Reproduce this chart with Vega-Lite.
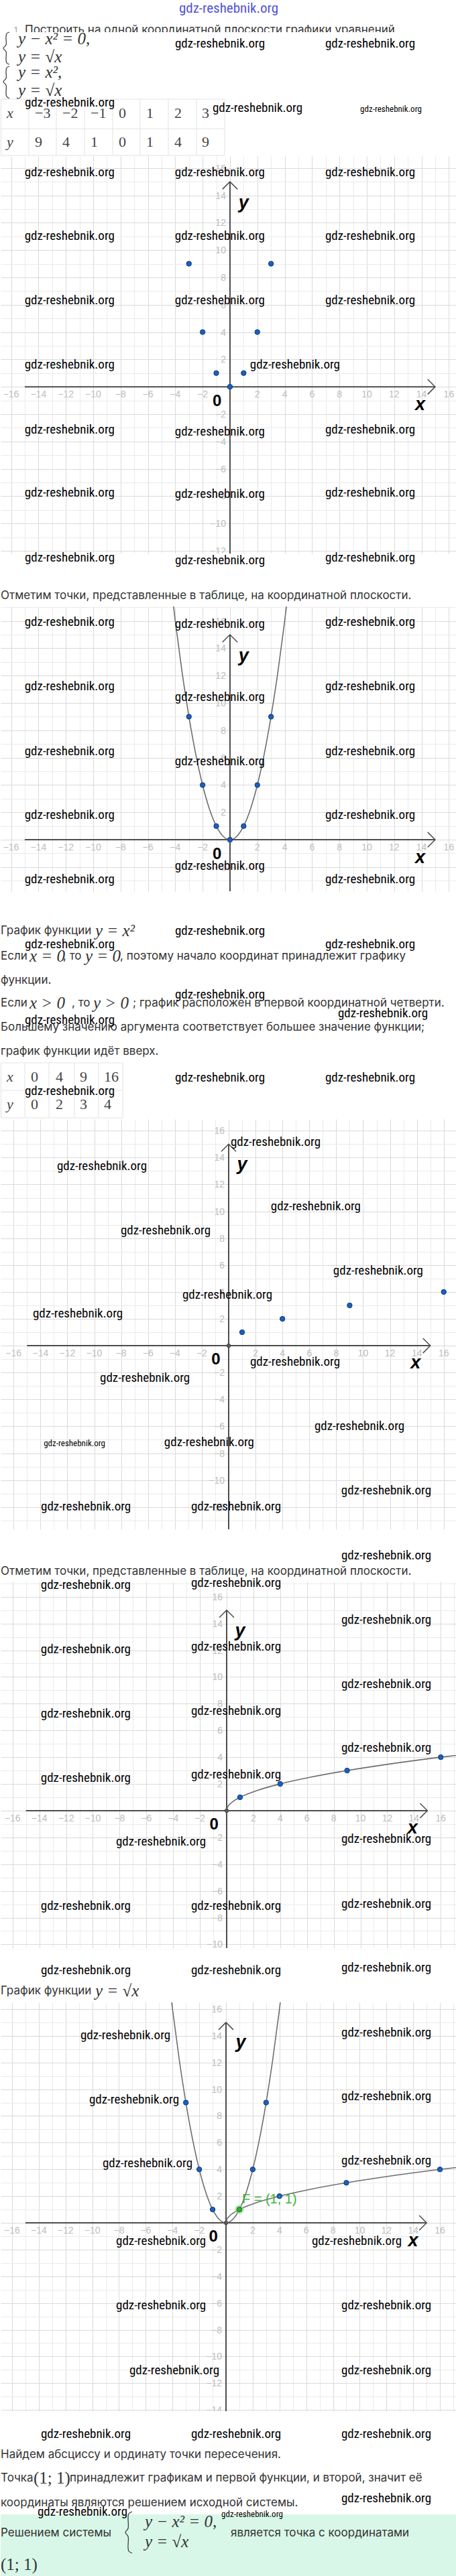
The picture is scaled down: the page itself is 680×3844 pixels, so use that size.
{
 "$schema": "https://vega.github.io/schema/vega-lite/v6.json",
 "padding": 0, "spacing": 0, "bounds": "flush", "background": "white",
 "config": {"view": {"stroke": null}, "concat": {"spacing": 0}},
 "vconcat": [
  {
   "width": 680, "height": 233,
   "encoding": {"x": {"field": "x", "type": "quantitative", "scale": {"domain": [0, 680], "nice": false, "zero": false}, "axis": null},
                "y": {"field": "y", "type": "quantitative", "scale": {"domain": [0, 233], "nice": false, "zero": false, "reverse": true}, "axis": null}},
   "layer": [
    {"data": {"values": [{"x": 20, "y": 45, "t": "1"}]}, "mark": {"type": "text", "align": "left", "baseline": "middle", "font": "Inter", "fontSize": 12, "color": "#9e9e9e"}, "encoding": {"text": {"field": "t"}}},
    {"data": {"values": [{"x": 36, "y": 45, "t": "Построить на одной координатной плоскости графики уравнений"}]}, "mark": {"type": "text", "align": "left", "baseline": "middle", "font": "Inter", "fontSize": 17, "color": "#333333"}, "encoding": {"text": {"field": "t"}}},
    {"data": {"values": [{"x": 0, "x2": 680, "y": 48, "y2": 148}]}, "mark": {"type": "rect", "color": "white"}, "encoding": {"x2": {"field": "x2"}, "y2": {"field": "y2"}}},
    {"data": {"values": [
      {"b": 1, "o": 1, "x": 13, "y": 48}, {"b": 1, "o": 2, "x": 9, "y": 50}, {"b": 1, "o": 3, "x": 8, "y": 55}, {"b": 1, "o": 4, "x": 8, "y": 67}, {"b": 1, "o": 5, "x": 4, "y": 72}, {"b": 1, "o": 6, "x": 8, "y": 77}, {"b": 1, "o": 7, "x": 8, "y": 89}, {"b": 1, "o": 8, "x": 9, "y": 94}, {"b": 1, "o": 9, "x": 13, "y": 96},
      {"b": 2, "o": 1, "x": 13, "y": 99}, {"b": 2, "o": 2, "x": 9, "y": 101}, {"b": 2, "o": 3, "x": 8, "y": 106}, {"b": 2, "o": 4, "x": 8, "y": 117}, {"b": 2, "o": 5, "x": 4, "y": 122}, {"b": 2, "o": 6, "x": 8, "y": 127}, {"b": 2, "o": 7, "x": 8, "y": 139}, {"b": 2, "o": 8, "x": 9, "y": 144}, {"b": 2, "o": 9, "x": 13, "y": 147}]},
     "mark": {"type": "line", "color": "#333333", "strokeWidth": 1.2, "interpolate": "catmull-rom"}, "encoding": {"detail": {"field": "b"}, "order": {"field": "o"}}},
    {"data": {"values": [{"x": 26, "y": 58, "t": "y − x² = 0,"}, {"x": 26, "y": 85, "t": "y = √x"}, {"x": 26, "y": 108, "t": "y = x²,"}, {"x": 26, "y": 135, "t": "y = √x"}]}, "mark": {"type": "text", "align": "left", "baseline": "middle", "font": "Liberation Serif", "fontStyle": "italic", "fontSize": 25, "color": "#333333"}, "encoding": {"text": {"field": "t"}}},
    {"data": {"values": [
      {"x": 0, "x2": 334, "y": 148, "y2": 148}, {"x": 0, "x2": 334, "y": 192, "y2": 192}, {"x": 0, "x2": 334, "y": 232, "y2": 232},
      {"x": 0.5, "x2": 0.5, "y": 148, "y2": 232}, {"x": 42, "x2": 42, "y": 148, "y2": 232}, {"x": 83, "x2": 83, "y": 148, "y2": 232}, {"x": 125, "x2": 125, "y": 148, "y2": 232}, {"x": 167, "x2": 167, "y": 148, "y2": 232}, {"x": 208, "x2": 208, "y": 148, "y2": 232}, {"x": 250, "x2": 250, "y": 148, "y2": 232}, {"x": 292, "x2": 292, "y": 148, "y2": 232}, {"x": 334, "x2": 334, "y": 148, "y2": 232}]},
     "mark": {"type": "rule", "color": "#e3e3e3", "strokeWidth": 1}, "encoding": {"x2": {"field": "x2"}, "y2": {"field": "y2"}}},
    {"data": {"values": [{"x": 9, "y": 169, "t": "x"}, {"x": 9, "y": 212, "t": "y"}]}, "mark": {"type": "text", "align": "left", "baseline": "middle", "font": "Liberation Serif", "fontStyle": "italic", "fontSize": 22, "color": "#444444"}, "encoding": {"text": {"field": "t"}}},
    {"data": {"values": [
      {"x": 51, "y": 169, "t": "−3"}, {"x": 92, "y": 169, "t": "−2"}, {"x": 134, "y": 169, "t": "−1"}, {"x": 176, "y": 169, "t": "0"}, {"x": 217, "y": 169, "t": "1"}, {"x": 259, "y": 169, "t": "2"}, {"x": 300, "y": 169, "t": "3"},
      {"x": 51, "y": 212, "t": "9"}, {"x": 92, "y": 212, "t": "4"}, {"x": 134, "y": 212, "t": "1"}, {"x": 176, "y": 212, "t": "0"}, {"x": 217, "y": 212, "t": "1"}, {"x": 259, "y": 212, "t": "4"}, {"x": 300, "y": 212, "t": "9"}]},
     "mark": {"type": "text", "align": "left", "baseline": "middle", "font": "Liberation Serif", "fontSize": 22, "color": "#444444"}, "encoding": {"text": {"field": "t"}}},
    {"data": {"values": [{"x": 340, "y": 13, "t": "gdz-reshebnik.org"}]}, "mark": {"type": "text", "align": "center", "baseline": "middle", "font": "Liberation Sans Narrow, Roboto Condensed, Roboto, sans-serif", "fontSize": 21, "color": "#5252d6"}, "encoding": {"text": {"field": "t"}}},
    {"data": {"values": [{"x": 327, "y": 65}, {"x": 551, "y": 65}, {"x": 103, "y": 153}, {"x": 383, "y": 161}]}, "mark": {"type": "text", "text": "gdz-reshebnik.org", "align": "center", "baseline": "middle", "font": "Liberation Sans Narrow, Roboto Condensed, Roboto, sans-serif", "fontSize": 19, "color": "black"}},
    {"data": {"values": [{"x": 582, "y": 163}]}, "mark": {"type": "text", "text": "gdz-reshebnik.org", "align": "center", "baseline": "middle", "font": "Liberation Sans Narrow, Roboto Condensed, Roboto, sans-serif", "fontSize": 13, "color": "black"}}
   ]
  },
  {
   "width": 680, "height": 593,
   "encoding": {
    "x": {"field": "x", "type": "quantitative", "scale": {"domain": [-16.76, 16.57], "nice": false, "zero": false}, "axis": {"grid": true, "gridColor": {"condition": {"test": "datum.value % 2 === 0", "value": "#dadada"}, "value": "#ebebeb"}, "labels": false, "ticks": false, "domain": false, "title": null, "minExtent": 0, "maxExtent": 0, "values": [-16,-15,-14,-13,-12,-11,-10,-9,-8,-7,-6,-5,-4,-3,-2,-1,0,1,2,3,4,5,6,7,8,9,10,11,12,13,14,15,16]}},
    "y": {"field": "y", "type": "quantitative", "scale": {"domain": [-12.2, 16.87], "nice": false, "zero": false}, "axis": {"grid": true, "gridColor": {"condition": {"test": "datum.value % 2 === 0", "value": "#dadada"}, "value": "#ebebeb"}, "labels": false, "ticks": false, "domain": false, "title": null, "minExtent": 0, "maxExtent": 0, "values": [-12,-11,-10,-9,-8,-7,-6,-5,-4,-3,-2,-1,0,1,2,3,4,5,6,7,8,9,10,11,12,13,14,15,16]}}
   },
   "layer": [
    {"data": {"values": [{"x": -15, "y": 0, "x2": 15, "y2": 0}, {"x": 0, "y": -15, "x2": 0, "y2": 15}]}, "mark": {"type": "rule", "color": "#4d4d4d", "strokeWidth": 2, "clip": true}, "encoding": {"x2": {"field": "x2"}, "y2": {"field": "y2"}}},
    {"data": {"values": [{"a": "x", "o": 1, "x": 14.45, "y": 0.55}, {"a": "x", "o": 2, "x": 15, "y": 0}, {"a": "x", "o": 3, "x": 14.45, "y": -0.55}, {"a": "y", "o": 1, "x": -0.55, "y": 14.45}, {"a": "y", "o": 2, "x": 0, "y": 15}, {"a": "y", "o": 3, "x": 0.55, "y": 14.45}]}, "mark": {"type": "line", "color": "#4d4d4d", "strokeWidth": 1.5, "clip": true}, "encoding": {"detail": {"field": "a"}, "order": {"field": "o"}}},
    {"data": {"values": [{"x": -16, "y": 0}, {"x": -14, "y": 0}, {"x": -12, "y": 0}, {"x": -10, "y": 0}, {"x": -8, "y": 0}, {"x": -6, "y": 0}, {"x": -4, "y": 0}, {"x": -2, "y": 0}, {"x": 2, "y": 0}, {"x": 4, "y": 0}, {"x": 6, "y": 0}, {"x": 8, "y": 0}, {"x": 10, "y": 0}, {"x": 12, "y": 0}, {"x": 14, "y": 0}, {"x": 16, "y": 0}]}, "mark": {"type": "text", "dy": 12, "align": "center", "baseline": "middle", "font": "Liberation Sans", "fontSize": 14, "color": "#bdbdbd", "clip": true}, "encoding": {"text": {"field": "x", "type": "quantitative", "format": "d"}}},
    {"data": {"values": [{"x": 0, "y": -12}, {"x": 0, "y": -10}, {"x": 0, "y": -8}, {"x": 0, "y": -6}, {"x": 0, "y": -4}, {"x": 0, "y": -2}, {"x": 0, "y": 2}, {"x": 0, "y": 4}, {"x": 0, "y": 6}, {"x": 0, "y": 8}, {"x": 0, "y": 10}, {"x": 0, "y": 12}, {"x": 0, "y": 14}, {"x": 0, "y": 16}]}, "mark": {"type": "text", "dx": -6, "dy": 1, "align": "right", "baseline": "middle", "font": "Liberation Sans", "fontSize": 14, "color": "#bdbdbd", "clip": true}, "encoding": {"text": {"field": "y", "type": "quantitative", "format": "d"}}},
    {"data": {"values": [{"x": -3, "y": 9}, {"x": -2, "y": 4}, {"x": -1, "y": 1}, {"x": 0, "y": 0}, {"x": 1, "y": 1}, {"x": 2, "y": 4}, {"x": 3, "y": 9}]}, "mark": {"type": "circle", "size": 55, "fill": "#1c5fbf", "stroke": "#0c3a75", "strokeWidth": 1, "opacity": 1, "clip": true}},
    {"data": {"values": [{"x": -0.95, "y": -1.05, "t": "0"}]}, "mark": {"type": "text", "align": "center", "baseline": "middle", "font": "Liberation Sans", "fontWeight": "bold", "fontSize": 24, "color": "black"}, "encoding": {"text": {"field": "t"}}},
    {"data": {"values": [{"x": 13.9, "y": -1.3, "t": "x"}, {"x": 1.0, "y": 13.45, "t": "y"}]}, "mark": {"type": "text", "align": "center", "baseline": "middle", "font": "Liberation Sans", "fontWeight": "bold", "fontStyle": "italic", "fontSize": 27, "color": "black"}, "encoding": {"text": {"field": "t"}}},
    {"data": {"values": [{"x": -11.72, "y": 15.69}, {"x": -0.74, "y": 15.69}, {"x": 10.25, "y": 15.69}, {"x": -11.72, "y": 11.03}, {"x": -0.74, "y": 11.03}, {"x": 10.25, "y": 11.03}, {"x": -11.72, "y": 6.32}, {"x": -0.74, "y": 6.32}, {"x": 10.25, "y": 6.32}, {"x": -11.72, "y": 1.62}, {"x": 4.75, "y": 1.62}, {"x": -11.72, "y": -3.14}, {"x": -0.74, "y": -3.28}, {"x": 10.25, "y": -3.14}, {"x": -11.72, "y": -7.75}, {"x": -0.74, "y": -7.84}, {"x": 10.25, "y": -7.75}]}, "mark": {"type": "text", "text": "gdz-reshebnik.org", "align": "center", "baseline": "middle", "font": "Liberation Sans Narrow, Roboto Condensed, Roboto, sans-serif", "fontSize": 19, "color": "black"}}
   ]
  },
  {
   "width": 680, "height": 79,
   "encoding": {"x": {"field": "x", "type": "quantitative", "scale": {"domain": [0, 680], "nice": false, "zero": false}, "axis": null},
                "y": {"field": "y", "type": "quantitative", "scale": {"domain": [0, 79], "nice": false, "zero": false, "reverse": true}, "axis": null}},
   "layer": [
    {"data": {"values": [{"x": 0, "y": 63, "t": "Отметим точки, представленные в таблице, на координатной плоскости."}]}, "mark": {"type": "text", "align": "left", "baseline": "middle", "font": "Inter", "fontSize": 17, "color": "#333333"}, "encoding": {"text": {"field": "t"}}},
    {"data": {"values": [{"x": 103, "y": 6}, {"x": 327, "y": 10}, {"x": 551, "y": 6}]}, "mark": {"type": "text", "text": "gdz-reshebnik.org", "align": "center", "baseline": "middle", "font": "Liberation Sans Narrow, Roboto Condensed, Roboto, sans-serif", "fontSize": 19, "color": "black"}}
   ]
  },
  {
   "width": 680, "height": 425,
   "encoding": {
    "x": {"field": "x", "type": "quantitative", "scale": {"domain": [-16.76, 16.57], "nice": false, "zero": false}, "axis": {"grid": true, "gridColor": {"condition": {"test": "datum.value % 2 === 0", "value": "#dadada"}, "value": "#ebebeb"}, "labels": false, "ticks": false, "domain": false, "title": null, "minExtent": 0, "maxExtent": 0, "values": [-16,-15,-14,-13,-12,-11,-10,-9,-8,-7,-6,-5,-4,-3,-2,-1,0,1,2,3,4,5,6,7,8,9,10,11,12,13,14,15,16]}},
    "y": {"field": "y", "type": "quantitative", "scale": {"domain": [-3.77, 17.06], "nice": false, "zero": false}, "axis": {"grid": true, "gridColor": {"condition": {"test": "datum.value % 2 === 0", "value": "#dadada"}, "value": "#ebebeb"}, "labels": false, "ticks": false, "domain": false, "title": null, "minExtent": 0, "maxExtent": 0, "values": [-3,-2,-1,0,1,2,3,4,5,6,7,8,9,10,11,12,13,14,15,16,17]}}
   },
   "layer": [
    {"data": {"values": [{"x": -15, "y": 0, "x2": 15, "y2": 0}, {"x": 0, "y": -15, "x2": 0, "y2": 15}]}, "mark": {"type": "rule", "color": "#4d4d4d", "strokeWidth": 2, "clip": true}, "encoding": {"x2": {"field": "x2"}, "y2": {"field": "y2"}}},
    {"data": {"values": [{"a": "x", "o": 1, "x": 14.45, "y": 0.55}, {"a": "x", "o": 2, "x": 15, "y": 0}, {"a": "x", "o": 3, "x": 14.45, "y": -0.55}, {"a": "y", "o": 1, "x": -0.55, "y": 14.45}, {"a": "y", "o": 2, "x": 0, "y": 15}, {"a": "y", "o": 3, "x": 0.55, "y": 14.45}]}, "mark": {"type": "line", "color": "#4d4d4d", "strokeWidth": 1.5, "clip": true}, "encoding": {"detail": {"field": "a"}, "order": {"field": "o"}}},
    {"data": {"values": [{"x": -16, "y": 0}, {"x": -14, "y": 0}, {"x": -12, "y": 0}, {"x": -10, "y": 0}, {"x": -8, "y": 0}, {"x": -6, "y": 0}, {"x": -4, "y": 0}, {"x": -2, "y": 0}, {"x": 2, "y": 0}, {"x": 4, "y": 0}, {"x": 6, "y": 0}, {"x": 8, "y": 0}, {"x": 10, "y": 0}, {"x": 12, "y": 0}, {"x": 14, "y": 0}, {"x": 16, "y": 0}]}, "mark": {"type": "text", "dy": 12, "align": "center", "baseline": "middle", "font": "Liberation Sans", "fontSize": 14, "color": "#bdbdbd", "clip": true}, "encoding": {"text": {"field": "x", "type": "quantitative", "format": "d"}}},
    {"data": {"values": [{"x": 0, "y": -2}, {"x": 0, "y": 2}, {"x": 0, "y": 4}, {"x": 0, "y": 6}, {"x": 0, "y": 8}, {"x": 0, "y": 10}, {"x": 0, "y": 12}, {"x": 0, "y": 14}, {"x": 0, "y": 16}]}, "mark": {"type": "text", "dx": -6, "dy": 1, "align": "right", "baseline": "middle", "font": "Liberation Sans", "fontSize": 14, "color": "#bdbdbd", "clip": true}, "encoding": {"text": {"field": "y", "type": "quantitative", "format": "d"}}},
    {"data": {"values": [{"x": -4.5, "y": 20.25}, {"x": -4, "y": 16}, {"x": -3.5, "y": 12.25}, {"x": -3, "y": 9}, {"x": -2.5, "y": 6.25}, {"x": -2, "y": 4}, {"x": -1.5, "y": 2.25}, {"x": -1, "y": 1}, {"x": -0.5, "y": 0.25}, {"x": 0, "y": 0}, {"x": 0.5, "y": 0.25}, {"x": 1, "y": 1}, {"x": 1.5, "y": 2.25}, {"x": 2, "y": 4}, {"x": 2.5, "y": 6.25}, {"x": 3, "y": 9}, {"x": 3.5, "y": 12.25}, {"x": 4, "y": 16}, {"x": 4.5, "y": 20.25}]}, "mark": {"type": "line", "color": "#6e6e6e", "strokeWidth": 1.6, "interpolate": "monotone", "clip": true}},
    {"data": {"values": [{"x": -3, "y": 9}, {"x": -2, "y": 4}, {"x": -1, "y": 1}, {"x": 0, "y": 0}, {"x": 1, "y": 1}, {"x": 2, "y": 4}, {"x": 3, "y": 9}]}, "mark": {"type": "circle", "size": 55, "fill": "#1c5fbf", "stroke": "#0c3a75", "strokeWidth": 1, "opacity": 1, "clip": true}},
    {"data": {"values": [{"x": -0.95, "y": -1.05, "t": "0"}]}, "mark": {"type": "text", "align": "center", "baseline": "middle", "font": "Liberation Sans", "fontWeight": "bold", "fontSize": 24, "color": "black"}, "encoding": {"text": {"field": "t"}}},
    {"data": {"values": [{"x": 13.9, "y": -1.3, "t": "x"}, {"x": 1.0, "y": 13.45, "t": "y"}]}, "mark": {"type": "text", "align": "center", "baseline": "middle", "font": "Liberation Sans", "fontWeight": "bold", "fontStyle": "italic", "fontSize": 27, "color": "black"}, "encoding": {"text": {"field": "t"}}},
    {"data": {"values": [{"x": -11.72, "y": 15.93}, {"x": -0.74, "y": 15.78}, {"x": 10.25, "y": 15.93}, {"x": -11.72, "y": 11.23}, {"x": -0.74, "y": 10.44}, {"x": 10.25, "y": 11.23}, {"x": -11.72, "y": 6.47}, {"x": -0.74, "y": 5.74}, {"x": 10.25, "y": 6.47}, {"x": -11.72, "y": 1.81}, {"x": 10.25, "y": 1.81}, {"x": -0.74, "y": -1.91}, {"x": -11.72, "y": -2.89}, {"x": 10.25, "y": -2.89}]}, "mark": {"type": "text", "text": "gdz-reshebnik.org", "align": "center", "baseline": "middle", "font": "Liberation Sans Narrow, Roboto Condensed, Roboto, sans-serif", "fontSize": 19, "color": "black"}}
   ]
  },
  {
   "width": 680, "height": 340,
   "encoding": {"x": {"field": "x", "type": "quantitative", "scale": {"domain": [0, 680], "nice": false, "zero": false}, "axis": null},
                "y": {"field": "y", "type": "quantitative", "scale": {"domain": [0, 340], "nice": false, "zero": false, "reverse": true}, "axis": null}},
   "layer": [
    {"data": {"values": [
      {"x": 0, "y": 59, "t": "График функции"},
      {"x": 0, "y": 97, "t": "Если"}, {"x": 93, "y": 97, "t": ", то"}, {"x": 178, "y": 97, "t": ", поэтому начало координат принадлежит графику"},
      {"x": 0, "y": 133, "t": "функции."},
      {"x": 0, "y": 167, "t": "Если"}, {"x": 106, "y": 167, "t": ", то"}, {"x": 197, "y": 167, "t": "; график расположен в первой координатной четверти."},
      {"x": 0, "y": 203, "t": "Большему значению аргумента соответствует большее значение функции;"},
      {"x": 0, "y": 239, "t": "график функции идёт вверх."}]},
     "mark": {"type": "text", "align": "left", "baseline": "middle", "font": "Inter", "fontSize": 17, "color": "#333333"}, "encoding": {"text": {"field": "t"}}},
    {"data": {"values": [{"x": 141, "y": 59, "t": "y = x²"}, {"x": 43, "y": 97, "t": "x = 0"}, {"x": 126, "y": 97, "t": "y = 0"}, {"x": 43, "y": 167, "t": "x  >  0"}, {"x": 138, "y": 167, "t": "y  >  0"}]}, "mark": {"type": "text", "align": "left", "baseline": "middle", "font": "Liberation Serif", "fontStyle": "italic", "fontSize": 25, "color": "#333333"}, "encoding": {"text": {"field": "t"}}},
    {"data": {"values": [
      {"x": 0, "x2": 182, "y": 256, "y2": 256}, {"x": 0, "x2": 182, "y": 297, "y2": 297}, {"x": 0, "x2": 182, "y": 338, "y2": 338},
      {"x": 0.5, "x2": 0.5, "y": 256, "y2": 338}, {"x": 36, "x2": 36, "y": 256, "y2": 338}, {"x": 72, "x2": 72, "y": 256, "y2": 338}, {"x": 110, "x2": 110, "y": 256, "y2": 338}, {"x": 146, "x2": 146, "y": 256, "y2": 338}, {"x": 182, "x2": 182, "y": 256, "y2": 338}]},
     "mark": {"type": "rule", "color": "#e3e3e3", "strokeWidth": 1}, "encoding": {"x2": {"field": "x2"}, "y2": {"field": "y2"}}},
    {"data": {"values": [{"x": 9, "y": 277, "t": "x"}, {"x": 9, "y": 318, "t": "y"}]}, "mark": {"type": "text", "align": "left", "baseline": "middle", "font": "Liberation Serif", "fontStyle": "italic", "fontSize": 22, "color": "#444444"}, "encoding": {"text": {"field": "t"}}},
    {"data": {"values": [{"x": 45, "y": 277, "t": "0"}, {"x": 82, "y": 277, "t": "4"}, {"x": 118, "y": 277, "t": "9"}, {"x": 154, "y": 277, "t": "16"}, {"x": 45, "y": 318, "t": "0"}, {"x": 82, "y": 318, "t": "2"}, {"x": 118, "y": 318, "t": "3"}, {"x": 154, "y": 318, "t": "4"}]}, "mark": {"type": "text", "align": "left", "baseline": "middle", "font": "Liberation Serif", "fontSize": 22, "color": "#444444"}, "encoding": {"text": {"field": "t"}}},
    {"data": {"values": [{"x": 327, "y": 59}, {"x": 103, "y": 79}, {"x": 551, "y": 79}, {"x": 327, "y": 154}, {"x": 570, "y": 182}, {"x": 103, "y": 192}, {"x": 327, "y": 278}, {"x": 551, "y": 278}, {"x": 103, "y": 298}]}, "mark": {"type": "text", "text": "gdz-reshebnik.org", "align": "center", "baseline": "middle", "font": "Liberation Sans Narrow, Roboto Condensed, Roboto, sans-serif", "fontSize": 19, "color": "black"}}
   ]
  },
  {
   "width": 680, "height": 612,
   "encoding": {
    "x": {"field": "x", "type": "quantitative", "scale": {"domain": [-16.96, 16.96], "nice": false, "zero": false}, "axis": {"grid": true, "gridColor": {"condition": {"test": "datum.value % 2 === 0", "value": "#dadada"}, "value": "#ebebeb"}, "labels": false, "ticks": false, "domain": false, "title": null, "minExtent": 0, "maxExtent": 0, "values": [-16,-15,-14,-13,-12,-11,-10,-9,-8,-7,-6,-5,-4,-3,-2,-1,0,1,2,3,4,5,6,7,8,9,10,11,12,13,14,15,16]}},
    "y": {"field": "y", "type": "quantitative", "scale": {"domain": [-13.66, 16.86], "nice": false, "zero": false}, "axis": {"grid": true, "gridColor": {"condition": {"test": "datum.value % 2 === 0", "value": "#dadada"}, "value": "#ebebeb"}, "labels": false, "ticks": false, "domain": false, "title": null, "minExtent": 0, "maxExtent": 0, "values": [-13,-12,-11,-10,-9,-8,-7,-6,-5,-4,-3,-2,-1,0,1,2,3,4,5,6,7,8,9,10,11,12,13,14,15,16]}}
   },
   "layer": [
    {"data": {"values": [{"x": -15, "y": 0, "x2": 15, "y2": 0}, {"x": 0, "y": -15, "x2": 0, "y2": 15}]}, "mark": {"type": "rule", "color": "#4d4d4d", "strokeWidth": 2, "clip": true}, "encoding": {"x2": {"field": "x2"}, "y2": {"field": "y2"}}},
    {"data": {"values": [{"a": "x", "o": 1, "x": 14.45, "y": 0.55}, {"a": "x", "o": 2, "x": 15, "y": 0}, {"a": "x", "o": 3, "x": 14.45, "y": -0.55}, {"a": "y", "o": 1, "x": -0.55, "y": 14.45}, {"a": "y", "o": 2, "x": 0, "y": 15}, {"a": "y", "o": 3, "x": 0.55, "y": 14.45}]}, "mark": {"type": "line", "color": "#4d4d4d", "strokeWidth": 1.5, "clip": true}, "encoding": {"detail": {"field": "a"}, "order": {"field": "o"}}},
    {"data": {"values": [{"x": -16, "y": 0}, {"x": -14, "y": 0}, {"x": -12, "y": 0}, {"x": -10, "y": 0}, {"x": -8, "y": 0}, {"x": -6, "y": 0}, {"x": -4, "y": 0}, {"x": -2, "y": 0}, {"x": 2, "y": 0}, {"x": 4, "y": 0}, {"x": 6, "y": 0}, {"x": 8, "y": 0}, {"x": 10, "y": 0}, {"x": 12, "y": 0}, {"x": 14, "y": 0}, {"x": 16, "y": 0}]}, "mark": {"type": "text", "dy": 12, "align": "center", "baseline": "middle", "font": "Liberation Sans", "fontSize": 14, "color": "#bdbdbd", "clip": true}, "encoding": {"text": {"field": "x", "type": "quantitative", "format": "d"}}},
    {"data": {"values": [{"x": 0, "y": -12}, {"x": 0, "y": -10}, {"x": 0, "y": -8}, {"x": 0, "y": -6}, {"x": 0, "y": -4}, {"x": 0, "y": -2}, {"x": 0, "y": 2}, {"x": 0, "y": 4}, {"x": 0, "y": 6}, {"x": 0, "y": 8}, {"x": 0, "y": 10}, {"x": 0, "y": 12}, {"x": 0, "y": 14}, {"x": 0, "y": 16}]}, "mark": {"type": "text", "dx": -6, "dy": 1, "align": "right", "baseline": "middle", "font": "Liberation Sans", "fontSize": 14, "color": "#bdbdbd", "clip": true}, "encoding": {"text": {"field": "y", "type": "quantitative", "format": "d"}}},
    {"data": {"values": [{"x": 0, "y": 0}]}, "mark": {"type": "circle", "size": 30, "fill": "#5c5c5c", "stroke": "#444444", "strokeWidth": 1, "opacity": 1, "clip": true}},
    {"data": {"values": [{"x": 1, "y": 1}, {"x": 4, "y": 2}, {"x": 9, "y": 3}, {"x": 16, "y": 4}]}, "mark": {"type": "circle", "size": 55, "fill": "#1c5fbf", "stroke": "#0c3a75", "strokeWidth": 1, "opacity": 1, "clip": true}},
    {"data": {"values": [{"x": -0.95, "y": -1.05, "t": "0"}]}, "mark": {"type": "text", "align": "center", "baseline": "middle", "font": "Liberation Sans", "fontWeight": "bold", "fontSize": 24, "color": "black"}, "encoding": {"text": {"field": "t"}}},
    {"data": {"values": [{"x": 13.9, "y": -1.3, "t": "x"}, {"x": 1.0, "y": 13.45, "t": "y"}]}, "mark": {"type": "text", "align": "center", "baseline": "middle", "font": "Liberation Sans", "fontWeight": "bold", "fontStyle": "italic", "fontSize": 27, "color": "black"}, "encoding": {"text": {"field": "t"}}},
    {"data": {"values": [{"x": 3.49, "y": 15.16}, {"x": -9.43, "y": 13.37}, {"x": 6.48, "y": 10.37}, {"x": -4.69, "y": 8.58}, {"x": 11.12, "y": 5.59}, {"x": -0.1, "y": 3.79}, {"x": -11.22, "y": 2.39}, {"x": 4.94, "y": -1.2}, {"x": -6.23, "y": -2.39}, {"x": 9.73, "y": -5.99}, {"x": -1.45, "y": -7.18}, {"x": 11.72, "y": -10.77}, {"x": -10.62, "y": -11.97}, {"x": 0.55, "y": -11.97}]}, "mark": {"type": "text", "text": "gdz-reshebnik.org", "align": "center", "baseline": "middle", "font": "Liberation Sans Narrow, Roboto Condensed, Roboto, sans-serif", "fontSize": 19, "color": "black"}},
    {"data": {"values": [{"x": -11.47, "y": -7.28}]}, "mark": {"type": "text", "text": "gdz-reshebnik.org", "align": "center", "baseline": "middle", "font": "Liberation Sans Narrow, Roboto Condensed, Roboto, sans-serif", "fontSize": 13, "color": "black"}}
   ]
  },
  {
   "width": 680, "height": 78,
   "encoding": {"x": {"field": "x", "type": "quantitative", "scale": {"domain": [0, 680], "nice": false, "zero": false}, "axis": null},
                "y": {"field": "y", "type": "quantitative", "scale": {"domain": [0, 78], "nice": false, "zero": false, "reverse": true}, "axis": null}},
   "layer": [
    {"data": {"values": [{"x": 0, "y": 63, "t": "Отметим точки, представленные в таблице, на координатной плоскости."}]}, "mark": {"type": "text", "align": "left", "baseline": "middle", "font": "Inter", "fontSize": 17, "color": "#333333"}, "encoding": {"text": {"field": "t"}}},
    {"data": {"values": [{"x": 575, "y": 39}]}, "mark": {"type": "text", "text": "gdz-reshebnik.org", "align": "center", "baseline": "middle", "font": "Liberation Sans Narrow, Roboto Condensed, Roboto, sans-serif", "fontSize": 19, "color": "black"}}
   ]
  },
  {
   "width": 680, "height": 547,
   "encoding": {
    "x": {"field": "x", "type": "quantitative", "scale": {"domain": [-16.89, 17.19], "nice": false, "zero": false}, "axis": {"grid": true, "gridColor": {"condition": {"test": "datum.value % 2 === 0", "value": "#dadada"}, "value": "#ebebeb"}, "labels": false, "ticks": false, "domain": false, "title": null, "minExtent": 0, "maxExtent": 0, "values": [-16,-15,-14,-13,-12,-11,-10,-9,-8,-7,-6,-5,-4,-3,-2,-1,0,1,2,3,4,5,6,7,8,9,10,11,12,13,14,15,16,17]}},
    "y": {"field": "y", "type": "quantitative", "scale": {"domain": [-10.28, 17.14], "nice": false, "zero": false}, "axis": {"grid": true, "gridColor": {"condition": {"test": "datum.value % 2 === 0", "value": "#dadada"}, "value": "#ebebeb"}, "labels": false, "ticks": false, "domain": false, "title": null, "minExtent": 0, "maxExtent": 0, "values": [-10,-9,-8,-7,-6,-5,-4,-3,-2,-1,0,1,2,3,4,5,6,7,8,9,10,11,12,13,14,15,16,17]}}
   },
   "layer": [
    {"data": {"values": [{"x": -15, "y": 0, "x2": 15, "y2": 0}, {"x": 0, "y": -15, "x2": 0, "y2": 15}]}, "mark": {"type": "rule", "color": "#4d4d4d", "strokeWidth": 2, "clip": true}, "encoding": {"x2": {"field": "x2"}, "y2": {"field": "y2"}}},
    {"data": {"values": [{"a": "x", "o": 1, "x": 14.45, "y": 0.55}, {"a": "x", "o": 2, "x": 15, "y": 0}, {"a": "x", "o": 3, "x": 14.45, "y": -0.55}, {"a": "y", "o": 1, "x": -0.55, "y": 14.45}, {"a": "y", "o": 2, "x": 0, "y": 15}, {"a": "y", "o": 3, "x": 0.55, "y": 14.45}]}, "mark": {"type": "line", "color": "#4d4d4d", "strokeWidth": 1.5, "clip": true}, "encoding": {"detail": {"field": "a"}, "order": {"field": "o"}}},
    {"data": {"values": [{"x": -16, "y": 0}, {"x": -14, "y": 0}, {"x": -12, "y": 0}, {"x": -10, "y": 0}, {"x": -8, "y": 0}, {"x": -6, "y": 0}, {"x": -4, "y": 0}, {"x": -2, "y": 0}, {"x": 2, "y": 0}, {"x": 4, "y": 0}, {"x": 6, "y": 0}, {"x": 8, "y": 0}, {"x": 10, "y": 0}, {"x": 12, "y": 0}, {"x": 14, "y": 0}, {"x": 16, "y": 0}]}, "mark": {"type": "text", "dy": 12, "align": "center", "baseline": "middle", "font": "Liberation Sans", "fontSize": 14, "color": "#bdbdbd", "clip": true}, "encoding": {"text": {"field": "x", "type": "quantitative", "format": "d"}}},
    {"data": {"values": [{"x": 0, "y": -10}, {"x": 0, "y": -8}, {"x": 0, "y": -6}, {"x": 0, "y": -4}, {"x": 0, "y": -2}, {"x": 0, "y": 2}, {"x": 0, "y": 4}, {"x": 0, "y": 6}, {"x": 0, "y": 8}, {"x": 0, "y": 10}, {"x": 0, "y": 12}, {"x": 0, "y": 14}, {"x": 0, "y": 16}]}, "mark": {"type": "text", "dx": -6, "dy": 1, "align": "right", "baseline": "middle", "font": "Liberation Sans", "fontSize": 14, "color": "#bdbdbd", "clip": true}, "encoding": {"text": {"field": "y", "type": "quantitative", "format": "d"}}},
    {"data": {"values": [{"x": 0, "y": 0}, {"x": 0.0625, "y": 0.25}, {"x": 0.25, "y": 0.5}, {"x": 0.5625, "y": 0.75}, {"x": 1, "y": 1}, {"x": 2.25, "y": 1.5}, {"x": 4, "y": 2}, {"x": 6.25, "y": 2.5}, {"x": 9, "y": 3}, {"x": 12.25, "y": 3.5}, {"x": 16, "y": 4}, {"x": 20.25, "y": 4.5}]}, "mark": {"type": "line", "color": "#6e6e6e", "strokeWidth": 1.6, "interpolate": "monotone", "clip": true}},
    {"data": {"values": [{"x": 0, "y": 0}]}, "mark": {"type": "circle", "size": 30, "fill": "#5c5c5c", "stroke": "#444444", "strokeWidth": 1, "opacity": 1, "clip": true}},
    {"data": {"values": [{"x": 1, "y": 1}, {"x": 4, "y": 2}, {"x": 9, "y": 3}, {"x": 16, "y": 4}]}, "mark": {"type": "circle", "size": 55, "fill": "#1c5fbf", "stroke": "#0c3a75", "strokeWidth": 1, "opacity": 1, "clip": true}},
    {"data": {"values": [{"x": -0.95, "y": -1.05, "t": "0"}]}, "mark": {"type": "text", "align": "center", "baseline": "middle", "font": "Liberation Sans", "fontWeight": "bold", "fontSize": 24, "color": "black"}, "encoding": {"text": {"field": "t"}}},
    {"data": {"values": [{"x": 13.9, "y": -1.3, "t": "x"}, {"x": 1.0, "y": 13.45, "t": "y"}]}, "mark": {"type": "text", "align": "center", "baseline": "middle", "font": "Liberation Sans", "fontWeight": "bold", "fontStyle": "italic", "fontSize": 27, "color": "black"}, "encoding": {"text": {"field": "t"}}},
    {"data": {"values": [{"x": -10.53, "y": 16.89}, {"x": 0.7, "y": 17.04}, {"x": 11.93, "y": 14.29}, {"x": -10.53, "y": 12.08}, {"x": 0.7, "y": 12.28}, {"x": 11.93, "y": 9.47}, {"x": -10.53, "y": 7.27}, {"x": 0.7, "y": 7.47}, {"x": 11.93, "y": 4.71}, {"x": -10.53, "y": 2.46}, {"x": 0.7, "y": 2.71}, {"x": -4.91, "y": -2.31}, {"x": 11.93, "y": -2.11}, {"x": -10.53, "y": -7.12}, {"x": 0.7, "y": -7.12}, {"x": 11.93, "y": -6.97}]}, "mark": {"type": "text", "text": "gdz-reshebnik.org", "align": "center", "baseline": "middle", "font": "Liberation Sans Narrow, Roboto Condensed, Roboto, sans-serif", "fontSize": 19, "color": "black"}}
   ]
  },
  {
   "width": 680, "height": 81,
   "encoding": {"x": {"field": "x", "type": "quantitative", "scale": {"domain": [0, 680], "nice": false, "zero": false}, "axis": null},
                "y": {"field": "y", "type": "quantitative", "scale": {"domain": [0, 81], "nice": false, "zero": false, "reverse": true}, "axis": null}},
   "layer": [
    {"data": {"values": [{"x": 0, "y": 64, "t": "График функции"}]}, "mark": {"type": "text", "align": "left", "baseline": "middle", "font": "Inter", "fontSize": 17, "color": "#333333"}, "encoding": {"text": {"field": "t"}}},
    {"data": {"values": [{"x": 141, "y": 64, "t": "y = √x"}]}, "mark": {"type": "text", "align": "left", "baseline": "middle", "font": "Liberation Serif", "fontStyle": "italic", "fontSize": 25, "color": "#333333"}, "encoding": {"text": {"field": "t"}}},
    {"data": {"values": [{"x": 127, "y": 33}, {"x": 351, "y": 33}, {"x": 575, "y": 29}]}, "mark": {"type": "text", "text": "gdz-reshebnik.org", "align": "center", "baseline": "middle", "font": "Liberation Sans Narrow, Roboto Condensed, Roboto, sans-serif", "fontSize": 19, "color": "black"}}
   ]
  },
  {
   "width": 680, "height": 610,
   "encoding": {
    "x": {"field": "x", "type": "quantitative", "scale": {"domain": [-16.85, 17.25], "nice": false, "zero": false}, "axis": {"grid": true, "gridColor": {"condition": {"test": "datum.value % 2 === 0", "value": "#dadada"}, "value": "#ebebeb"}, "labels": false, "ticks": false, "domain": false, "title": null, "minExtent": 0, "maxExtent": 0, "values": [-16,-15,-14,-13,-12,-11,-10,-9,-8,-7,-6,-5,-4,-3,-2,-1,0,1,2,3,4,5,6,7,8,9,10,11,12,13,14,15,16,17]}},
    "y": {"field": "y", "type": "quantitative", "scale": {"domain": [-14.09, 16.5], "nice": false, "zero": false}, "axis": {"grid": true, "gridColor": {"condition": {"test": "datum.value % 2 === 0", "value": "#dadada"}, "value": "#ebebeb"}, "labels": false, "ticks": false, "domain": false, "title": null, "minExtent": 0, "maxExtent": 0, "values": [-14,-13,-12,-11,-10,-9,-8,-7,-6,-5,-4,-3,-2,-1,0,1,2,3,4,5,6,7,8,9,10,11,12,13,14,15,16]}}
   },
   "layer": [
    {"data": {"values": [{"x": -15, "y": 0, "x2": 15, "y2": 0}, {"x": 0, "y": -15, "x2": 0, "y2": 15}]}, "mark": {"type": "rule", "color": "#4d4d4d", "strokeWidth": 2, "clip": true}, "encoding": {"x2": {"field": "x2"}, "y2": {"field": "y2"}}},
    {"data": {"values": [{"a": "x", "o": 1, "x": 14.45, "y": 0.55}, {"a": "x", "o": 2, "x": 15, "y": 0}, {"a": "x", "o": 3, "x": 14.45, "y": -0.55}, {"a": "y", "o": 1, "x": -0.55, "y": 14.45}, {"a": "y", "o": 2, "x": 0, "y": 15}, {"a": "y", "o": 3, "x": 0.55, "y": 14.45}]}, "mark": {"type": "line", "color": "#4d4d4d", "strokeWidth": 1.5, "clip": true}, "encoding": {"detail": {"field": "a"}, "order": {"field": "o"}}},
    {"data": {"values": [{"x": -16, "y": 0}, {"x": -14, "y": 0}, {"x": -12, "y": 0}, {"x": -10, "y": 0}, {"x": -8, "y": 0}, {"x": -6, "y": 0}, {"x": -4, "y": 0}, {"x": -2, "y": 0}, {"x": 2, "y": 0}, {"x": 4, "y": 0}, {"x": 6, "y": 0}, {"x": 8, "y": 0}, {"x": 10, "y": 0}, {"x": 12, "y": 0}, {"x": 14, "y": 0}, {"x": 16, "y": 0}]}, "mark": {"type": "text", "dy": 12, "align": "center", "baseline": "middle", "font": "Liberation Sans", "fontSize": 14, "color": "#bdbdbd", "clip": true}, "encoding": {"text": {"field": "x", "type": "quantitative", "format": "d"}}},
    {"data": {"values": [{"x": 0, "y": -14}, {"x": 0, "y": -12}, {"x": 0, "y": -10}, {"x": 0, "y": -8}, {"x": 0, "y": -6}, {"x": 0, "y": -4}, {"x": 0, "y": -2}, {"x": 0, "y": 2}, {"x": 0, "y": 4}, {"x": 0, "y": 6}, {"x": 0, "y": 8}, {"x": 0, "y": 10}, {"x": 0, "y": 12}, {"x": 0, "y": 14}, {"x": 0, "y": 16}]}, "mark": {"type": "text", "dx": -6, "dy": 1, "align": "right", "baseline": "middle", "font": "Liberation Sans", "fontSize": 14, "color": "#bdbdbd", "clip": true}, "encoding": {"text": {"field": "y", "type": "quantitative", "format": "d"}}},
    {"data": {"values": [{"x": -4.5, "y": 20.25}, {"x": -4, "y": 16}, {"x": -3.5, "y": 12.25}, {"x": -3, "y": 9}, {"x": -2.5, "y": 6.25}, {"x": -2, "y": 4}, {"x": -1.5, "y": 2.25}, {"x": -1, "y": 1}, {"x": -0.5, "y": 0.25}, {"x": 0, "y": 0}, {"x": 0.5, "y": 0.25}, {"x": 1, "y": 1}, {"x": 1.5, "y": 2.25}, {"x": 2, "y": 4}, {"x": 2.5, "y": 6.25}, {"x": 3, "y": 9}, {"x": 3.5, "y": 12.25}, {"x": 4, "y": 16}, {"x": 4.5, "y": 20.25}]}, "mark": {"type": "line", "color": "#6e6e6e", "strokeWidth": 1.6, "interpolate": "monotone", "clip": true}},
    {"data": {"values": [{"x": 0, "y": 0}, {"x": 0.0625, "y": 0.25}, {"x": 0.25, "y": 0.5}, {"x": 0.5625, "y": 0.75}, {"x": 1, "y": 1}, {"x": 2.25, "y": 1.5}, {"x": 4, "y": 2}, {"x": 6.25, "y": 2.5}, {"x": 9, "y": 3}, {"x": 12.25, "y": 3.5}, {"x": 16, "y": 4}, {"x": 20.25, "y": 4.5}]}, "mark": {"type": "line", "color": "#6e6e6e", "strokeWidth": 1.6, "interpolate": "monotone", "clip": true}},
    {"data": {"values": [{"x": 0, "y": 0}]}, "mark": {"type": "circle", "size": 30, "fill": "#5c5c5c", "stroke": "#444444", "strokeWidth": 1, "opacity": 1, "clip": true}},
    {"data": {"values": [{"x": -3, "y": 9}, {"x": -2, "y": 4}, {"x": -1, "y": 1}, {"x": 2, "y": 4}, {"x": 3, "y": 9}, {"x": 4, "y": 2}, {"x": 9, "y": 3}, {"x": 16, "y": 4}]}, "mark": {"type": "circle", "size": 55, "fill": "#1c5fbf", "stroke": "#0c3a75", "strokeWidth": 1, "opacity": 1, "clip": true}},
    {"data": {"values": [{"x": 1, "y": 1}]}, "mark": {"type": "circle", "size": 200, "fill": "#8fdc8f", "opacity": 0.55, "clip": true}},
    {"data": {"values": [{"x": 1, "y": 1}]}, "mark": {"type": "circle", "size": 60, "fill": "#2fae2f", "stroke": "#1d6e1d", "strokeWidth": 1, "opacity": 1, "clip": true}},
    {"data": {"values": [{"x": 1.2, "y": 1.76, "t": "F = (1; 1)"}]}, "mark": {"type": "text", "align": "left", "baseline": "middle", "font": "Liberation Sans", "fontSize": 20, "color": "#3fb43f"}, "encoding": {"text": {"field": "t"}}},
    {"data": {"values": [{"x": -0.95, "y": -1.05, "t": "0"}]}, "mark": {"type": "text", "align": "center", "baseline": "middle", "font": "Liberation Sans", "fontWeight": "bold", "fontSize": 24, "color": "black"}, "encoding": {"text": {"field": "t"}}},
    {"data": {"values": [{"x": 13.99, "y": -1.35, "t": "x"}, {"x": 1.1, "y": 13.5, "t": "y"}]}, "mark": {"type": "text", "align": "center", "baseline": "middle", "font": "Liberation Sans", "fontWeight": "bold", "fontStyle": "italic", "fontSize": 27, "color": "black"}, "encoding": {"text": {"field": "t"}}},
    {"data": {"values": [{"x": -7.52, "y": 14.04}, {"x": 11.99, "y": 14.24}, {"x": -6.87, "y": 9.23}, {"x": 11.99, "y": 9.48}, {"x": -5.87, "y": 4.46}, {"x": 11.99, "y": 4.66}, {"x": -4.86, "y": -1.35}, {"x": 9.78, "y": -1.35}, {"x": -4.86, "y": -6.17}, {"x": 11.99, "y": -6.17}, {"x": -3.86, "y": -11.03}, {"x": 11.99, "y": -11.03}]}, "mark": {"type": "text", "text": "gdz-reshebnik.org", "align": "center", "baseline": "middle", "font": "Liberation Sans Narrow, Roboto Condensed, Roboto, sans-serif", "fontSize": 19, "color": "black"}}
   ]
  },
  {
   "width": 680, "height": 246,
   "encoding": {"x": {"field": "x", "type": "quantitative", "scale": {"domain": [0, 680], "nice": false, "zero": false}, "axis": null},
                "y": {"field": "y", "type": "quantitative", "scale": {"domain": [0, 246], "nice": false, "zero": false, "reverse": true}, "axis": null}},
   "layer": [
    {"data": {"values": [{"x": 0, "x2": 680, "y": 154, "y2": 246}]}, "mark": {"type": "rect", "color": "#d9f7e8"}, "encoding": {"x2": {"field": "x2"}, "y2": {"field": "y2"}}},
    {"data": {"values": [
      {"x": 0, "y": 65, "t": "Найдем абсциссу и ординату точки пересечения."},
      {"x": 0, "y": 100, "t": "Точка"}, {"x": 103, "y": 100, "t": "принадлежит графикам и первой функции, и второй, значит её"},
      {"x": 0, "y": 137, "t": "координаты являются решением исходной системы."},
      {"x": 0, "y": 182, "t": "Решением системы"}, {"x": 343, "y": 182, "t": "является точка с координатами"}]},
     "mark": {"type": "text", "align": "left", "baseline": "middle", "font": "Inter", "fontSize": 17, "color": "#333333"}, "encoding": {"text": {"field": "t"}}},
    {"data": {"values": [{"x": 49, "y": 100, "t": "(1; 1)"}, {"x": 0, "y": 229, "t": "(1; 1)"}]}, "mark": {"type": "text", "align": "left", "baseline": "middle", "font": "Liberation Serif", "fontSize": 25, "color": "#333333"}, "encoding": {"text": {"field": "t"}}},
    {"data": {"values": [{"x": 215, "y": 165, "t": "y − x² = 0,"}, {"x": 215, "y": 195, "t": "y = √x"}]}, "mark": {"type": "text", "align": "left", "baseline": "middle", "font": "Liberation Serif", "fontStyle": "italic", "fontSize": 25, "color": "#333333"}, "encoding": {"text": {"field": "t"}}},
    {"data": {"values": [{"o": 1, "x": 196, "y": 150}, {"o": 2, "x": 191, "y": 153}, {"o": 3, "x": 190, "y": 159}, {"o": 4, "x": 190, "y": 175}, {"o": 5, "x": 186, "y": 181}, {"o": 6, "x": 190, "y": 187}, {"o": 7, "x": 190, "y": 203}, {"o": 8, "x": 191, "y": 209}, {"o": 9, "x": 196, "y": 212}]}, "mark": {"type": "line", "color": "#333333", "strokeWidth": 1.2, "interpolate": "catmull-rom"}, "encoding": {"order": {"field": "o"}}},
    {"data": {"values": [{"x": 127, "y": 34}, {"x": 351, "y": 34}, {"x": 575, "y": 34}, {"x": 575, "y": 130}, {"x": 122, "y": 150}]}, "mark": {"type": "text", "text": "gdz-reshebnik.org", "align": "center", "baseline": "middle", "font": "Liberation Sans Narrow, Roboto Condensed, Roboto, sans-serif", "fontSize": 19, "color": "black"}},
    {"data": {"values": [{"x": 375, "y": 154}]}, "mark": {"type": "text", "text": "gdz-reshebnik.org", "align": "center", "baseline": "middle", "font": "Liberation Sans Narrow, Roboto Condensed, Roboto, sans-serif", "fontSize": 13, "color": "black"}}
   ]
  }
 ]
}
